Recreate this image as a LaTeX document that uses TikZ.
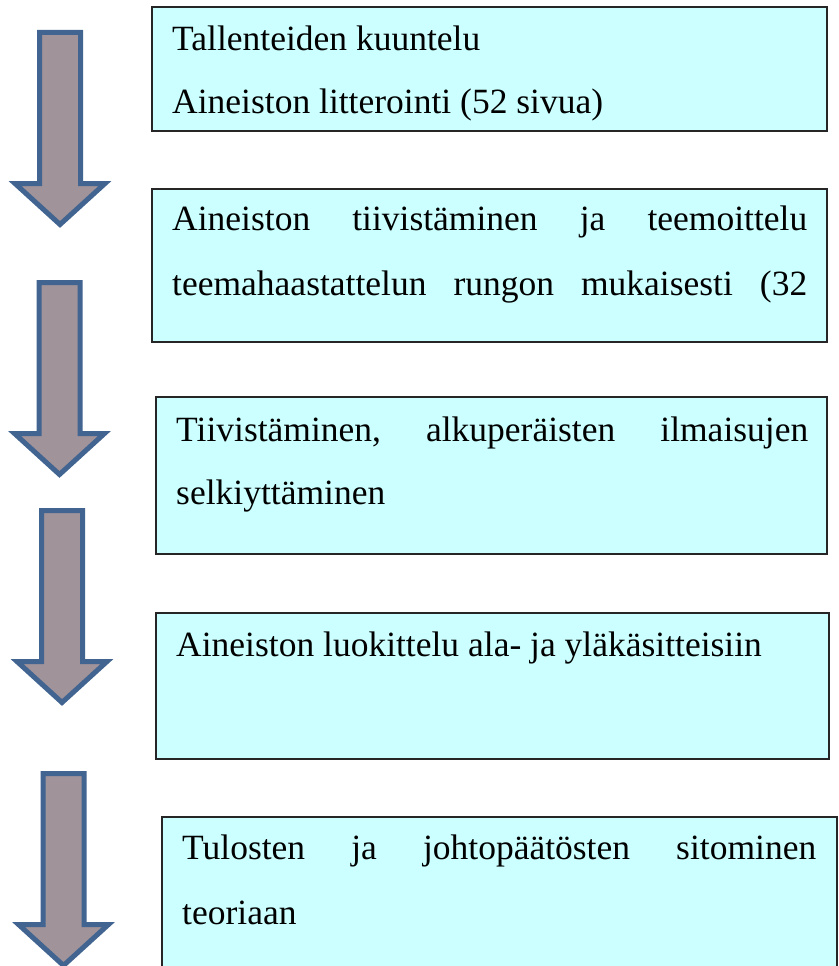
\documentclass[tikz,border=0pt]{standalone}
\usepackage{fontspec}
\setmainfont{Liberation Serif}
\definecolor{boxfill}{HTML}{CCFFFF}
\definecolor{arrfill}{HTML}{A0939A}
\definecolor{arrline}{HTML}{416491}
\tikzset{
  stepbox/.style={draw=black!85, line width=1.3pt, fill=boxfill},
  lbl/.style={anchor=base west, inner sep=0pt, font=\fontsize{35.5}{40}\selectfont},
  blockarrow/.pic={
    \draw[fill=arrfill, draw=arrline, line width=5pt, miter limit=10]
      (-20.5,0) -- (20.5,0) -- (20.5,151) -- (45,151) -- (0,192)
      -- (-45,151) -- (-20.5,151) -- cycle;
  }
}
\begin{document}
\begin{tikzpicture}[x=1pt,y=-1pt]
\useasboundingbox (0,0) rectangle (838,966);
\clip (0,0) rectangle (838,966);
% boxes
\path[stepbox] (152,7) rectangle (827,131);
\coordinate (b1) at (152,7);
\path[stepbox] (152,189) rectangle (827,342);
\coordinate (b2) at (152,189);
\path[stepbox] (156,397) rectangle (827,554);
\coordinate (b3) at (156,397);
\path[stepbox] (156,613) rectangle (829,759);
\coordinate (b4) at (156,613);
\path[stepbox] (162,817) rectangle (837,1000);
\coordinate (b5) at (162,817);
% texts
\node[lbl] (t1a) at (172,51) {Tallenteiden kuuntelu};
\node[lbl] (t1b) at (172,113) {Aineiston litterointi (52 sivua)};
\node[lbl] (t2a) at (172,230) {\makebox[635pt][s]{Aineiston\hfill tiivistäminen\hfill ja\hfill teemoittelu}};
\node[lbl] (t2b) at (172,295) {\makebox[635pt][s]{teemahaastattelun\hfill rungon\hfill mukaisesti\hfill (32}};
\node[lbl] (t3a) at (176,441) {\makebox[632pt][s]{Tiivistäminen,\hfill alkuperäisten\hfill ilmaisujen}};
\node[lbl] (t3b) at (176,504) {selkiyttäminen};
\node[lbl] (t4a) at (176,656) {Aineiston luokittelu ala- ja yläkäsitteisiin};
\node[lbl] (t5a) at (182,859) {\makebox[634pt][s]{Tulosten\hfill ja\hfill johtopäätösten\hfill sitominen}};
\node[lbl] (t5b) at (182,924) {teoriaan};
% arrows
\pic at (60,32.5) {blockarrow};
\pic at (59.5,282.5) {blockarrow};
\pic at (62,510.5) {blockarrow};
\pic at (63.5,773.5) {blockarrow};
\end{tikzpicture}
\end{document}
